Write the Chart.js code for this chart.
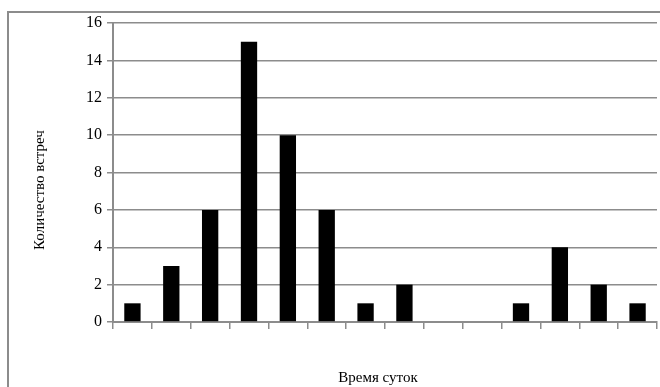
<!DOCTYPE html>
<html>
<head>
<meta charset="utf-8">
<script src="https://cdn.jsdelivr.net/npm/chart.js@4.4.0/dist/chart.umd.min.js"></script>
<style>
  body { margin: 0; background: #fff; }
  #wrap { position: relative; width: 660px; height: 387px; overflow: hidden; }
  #frame { position: absolute; left: 7px; top: 11px; width: 700px; height: 400px;
           border-left: 2px solid #8c8c8c; border-top: 2px solid #8c8c8c; }
  canvas { position: absolute; left: 0; top: 0; }
</style>
</head>
<body>
<div id="wrap">
  <div id="frame"></div>
  <canvas id="meetChart" width="660" height="387"></canvas>
</div>
<script>
// интервалы времени суток (подписи на оси не показаны)
const periods = ['1', '2', '3', '4', '5', '6', '7', '8', '9', '10', '11', '12', '13', '14'];
const meetings = [1, 3, 6, 15, 10, 6, 1, 2, 0, 0, 1, 4, 2, 1];
const yTicks = [0, 2, 4, 6, 8, 10, 12, 14, 16];

const yTitle = 'Количество встреч';
const xTitle = 'Время суток';
const gridColor = '#8c8c8c';
const fontName = '"Liberation Serif", "Times New Roman", serif';

// подписи осей рисуем сами, чтобы поставить их как в оригинале
const axisTitles = {
  id: 'axisTitles',
  afterDraw(chart) {
    const ctx = chart.ctx;
    ctx.save();
    ctx.fillStyle = '#000';
    ctx.font = '15px ' + fontName;
    ctx.textAlign = 'center';
    ctx.textBaseline = 'middle';
    const xs = chart.scales.x;
    ctx.fillText(xTitle, (xs.left + xs.right) / 2 - 7, 378);
    ctx.translate(40, 190);
    ctx.rotate(-Math.PI / 2);
    ctx.fillText(yTitle, 0, 0);
    ctx.restore();
  }
};

new Chart('meetChart', {
  type: 'bar',
  data: {
    labels: periods,
    datasets: [{
      data: meetings,
      backgroundColor: '#000',
      borderWidth: 0,
      barPercentage: 0.42,
      categoryPercentage: 1
    }]
  },
  options: {
    responsive: false,
    animation: false,
    layout: { padding: { top: 23, right: 3, left: 0, bottom: 0 } },
    plugins: { legend: { display: false }, tooltip: { enabled: false } },
    scales: {
      x: {
        grid: { offset: true, drawOnChartArea: false, color: gridColor, lineWidth: 1.5, tickLength: 7 },
        border: { color: gridColor, width: 2 },
        ticks: { display: false },
        afterFit(scale) { scale.height = 65; }
      },
      y: {
        min: 0,
        max: 16,
        afterBuildTicks(scale) { scale.ticks = yTicks.map(v => ({ value: v })); },
        grid: { color: gridColor, lineWidth: 1.5, tickLength: 6 },
        border: { color: gridColor, width: 2 },
        ticks: {
          color: '#000',
          padding: 5,
          font: { family: fontName, size: 16 }
        },
        afterFit(scale) { scale.width = 113; }
      }
    }
  },
  plugins: [axisTitles]
});
</script>
</body>
</html>
